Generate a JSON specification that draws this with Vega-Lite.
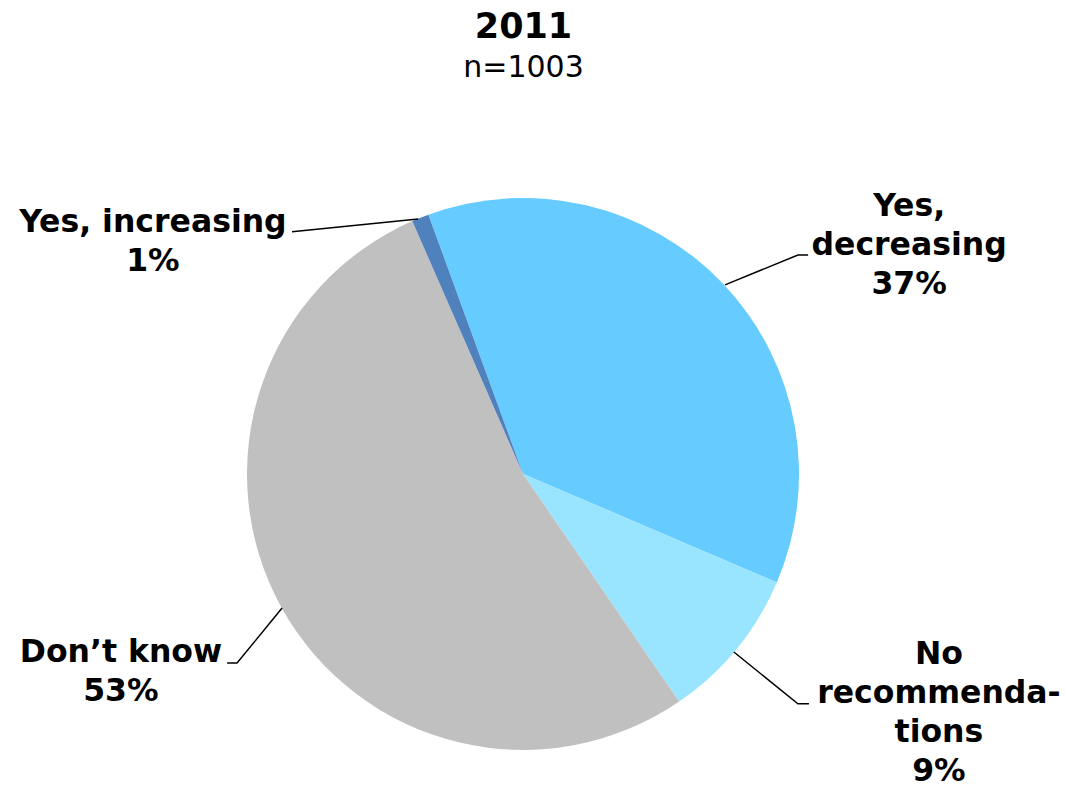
{
  "$schema": "https://vega.github.io/schema/vega-lite/v6.json",
  "width": 1067,
  "height": 785,
  "padding": 0,
  "autosize": {"type": "none"},
  "background": "white",
  "config": {"view": {"stroke": null}},
  "title": {
    "text": "2011",
    "subtitle": "n=1003",
    "orient": "top",
    "anchor": "middle",
    "offset": -83,
    "dx": -10,
    "font": "DejaVu Sans",
    "fontSize": 35,
    "fontWeight": "bold",
    "color": "black",
    "subtitleFont": "DejaVu Sans",
    "subtitleFontSize": 30,
    "subtitleColor": "black",
    "subtitlePadding": 8.5
  },
  "datasets": {
    "shares": [
      {"category": "Yes, decreasing", "percent": 37, "order": 1},
      {"category": "No recommendations", "percent": 9, "order": 2},
      {"category": "Don’t know", "percent": 53, "order": 3},
      {"category": "Yes, increasing", "percent": 1, "order": 4}
    ],
    "labels": [
      {"category": "Yes, decreasing", "text": "Yes,\ndecreasing\n37%", "x": 139.9, "y": 96.7},
      {"category": "No recommendations", "text": "No\nrecommenda-\ntions\n9%", "x": 150.7, "y": -65.6},
      {"category": "Don’t know", "text": "Don’t know\n53%", "x": -145.7, "y": -64.9},
      {"category": "Yes, increasing", "text": "Yes, increasing\n1%", "x": -134.1, "y": 90.9}
    ],
    "leaders": [
      {"category": "Yes, increasing", "step": 1, "x": -83.7, "y": 87.7},
      {"category": "Yes, increasing", "step": 2, "x": -38.0, "y": 92.4},
      {"category": "Yes, decreasing", "step": 1, "x": 73.2, "y": 68.5},
      {"category": "Yes, decreasing", "step": 2, "x": 99.6, "y": 79.3},
      {"category": "Yes, decreasing", "step": 3, "x": 103.3, "y": 79.3},
      {"category": "Don’t know", "step": 1, "x": -107.2, "y": -68.5},
      {"category": "Don’t know", "step": 2, "x": -103.6, "y": -68.5},
      {"category": "Don’t know", "step": 3, "x": -87.3, "y": -48.6},
      {"category": "No recommendations", "step": 1, "x": 76.4, "y": -64.5},
      {"category": "No recommendations", "step": 2, "x": 99.6, "y": -83.3},
      {"category": "No recommendations", "step": 3, "x": 103.6, "y": -83.3}
    ]
  },
  "layer": [
    {
      "data": {"name": "shares"},
      "mark": {"type": "arc", "outerRadius": 276},
      "encoding": {
        "x": {"datum": 0, "type": "quantitative", "scale": {"domain": [-189.5, 197.1], "nice": false, "zero": false}, "axis": null},
        "y": {"datum": 0, "type": "quantitative", "scale": {"domain": [-112.7, 171.7], "nice": false, "zero": false}, "axis": null},
        "theta": {"field": "percent", "type": "quantitative", "stack": true, "scale": {"range": [-0.35, 5.9332]}},
        "color": {
          "field": "category",
          "type": "nominal",
          "scale": {
            "domain": ["Yes, decreasing", "No recommendations", "Don’t know", "Yes, increasing"],
            "range": ["#66CCFF", "#99E5FF", "#C0C0C0", "#4F81BD"]
          },
          "legend": null
        },
        "order": {"field": "order", "type": "quantitative"}
      }
    },
    {
      "data": {"name": "leaders"},
      "mark": {"type": "line", "color": "black", "strokeWidth": 1.5},
      "encoding": {
        "x": {"field": "x", "type": "quantitative"},
        "y": {"field": "y", "type": "quantitative"},
        "detail": {"field": "category", "type": "nominal"},
        "order": {"field": "step", "type": "quantitative"}
      }
    },
    {
      "data": {"name": "labels"},
      "mark": {
        "type": "text",
        "font": "DejaVu Sans",
        "fontSize": 31.5,
        "fontWeight": "bold",
        "lineBreak": "\n",
        "lineHeight": 39,
        "align": "center",
        "baseline": "middle",
        "color": "black"
      },
      "encoding": {
        "x": {"field": "x", "type": "quantitative"},
        "y": {"field": "y", "type": "quantitative"},
        "text": {"field": "text", "type": "nominal"}
      }
    }
  ]
}
